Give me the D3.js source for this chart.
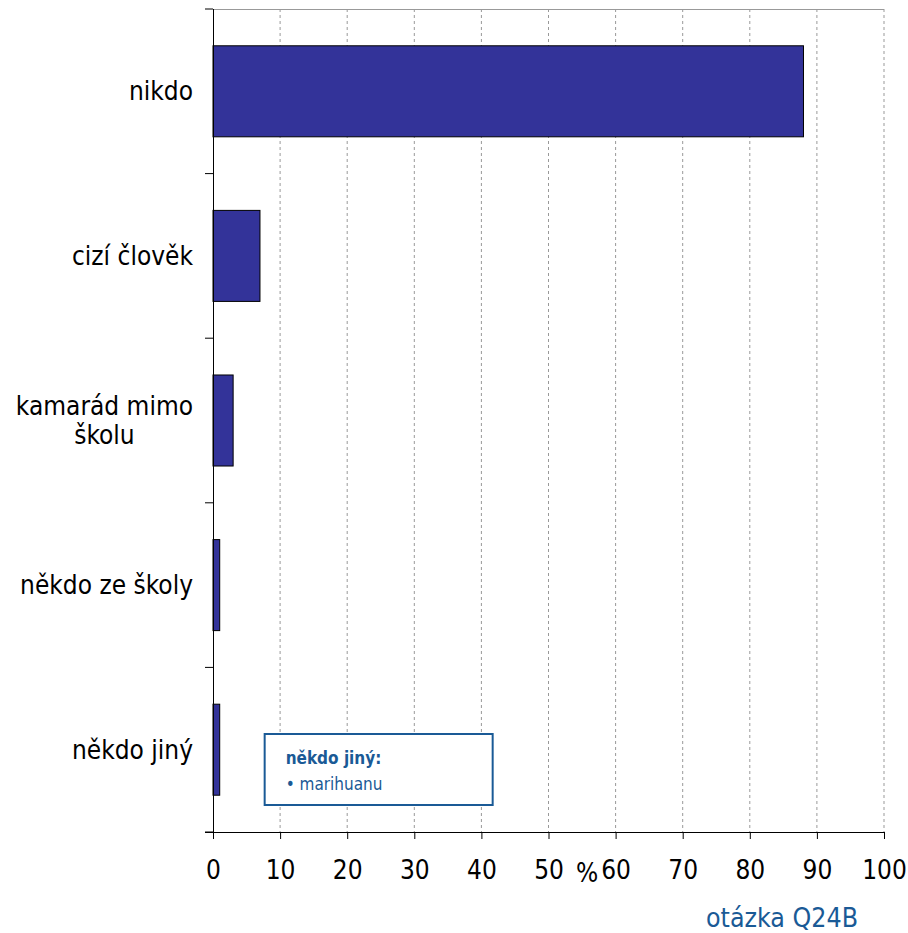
<!DOCTYPE html>
<html>
<head>
<meta charset="utf-8">
<script src="https://cdn.jsdelivr.net/npm/d3@7"></script>
<style>
  body { margin: 0; background: #fff; }
  svg text { font-family: "DejaVu Sans Condensed", "DejaVu Sans", sans-serif; }
</style>
</head>
<body>
<div id="chart"></div>
<script>
const categories = ["nikdo", "cizí člověk", "kamarád mimo školu", "někdo ze školy", "někdo jiný"];
const categoryLines = [["nikdo"], ["cizí člověk"], ["kamarád mimo", "školu"], ["někdo ze školy"], ["někdo jiný"]];
const values = [88, 7, 3, 1, 1];
const xTicks = [0, 10, 20, 30, 40, 50, 60, 70, 80, 90, 100];
const noteTitle = "někdo jiný:";
const noteItems = ["marihuanu"];

const width = 908, height = 933;
const margin = { top: 9, right: 24, bottom: 101, left: 213 };
const innerW = width - margin.left - margin.right;
const innerH = height - margin.top - margin.bottom;

const svg = d3.select("#chart").append("svg")
    .attr("width", width)
    .attr("height", height);

const g = svg.append("g")
    .attr("transform", "translate(" + margin.left + "," + margin.top + ")");

const x = d3.scaleLinear().domain([0, 100]).range([0, innerW]);
const y = d3.scaleBand().domain(categories).range([0, innerH]).paddingInner(0.447).paddingOuter(0.2235);

// grid
g.selectAll(".grid")
    .data(xTicks.slice(1))
    .enter().append("line")
    .attr("x1", d => x(d)).attr("x2", d => x(d))
    .attr("y1", 0).attr("y2", innerH)
    .attr("stroke", "#999")
    .attr("stroke-width", 1)
    .attr("stroke-dasharray", "3,3");

g.append("line")
    .attr("x1", 0).attr("x2", innerW)
    .attr("y1", 0.5).attr("y2", 0.5)
    .attr("stroke", "#999");

// bars
g.selectAll(".bar")
    .data(categories)
    .enter().append("rect")
    .attr("x", x(0))
    .attr("y", d => y(d))
    .attr("width", (d, i) => x(values[i]) - x(0))
    .attr("height", y.bandwidth())
    .attr("fill", "#333399")
    .attr("stroke", "#000")
    .attr("stroke-width", 1);

// x axis
const xAxis = g.append("g")
    .attr("transform", "translate(0," + innerH + ")")
    .call(d3.axisBottom(x).tickValues(xTicks).tickSize(7).tickPadding(22));
xAxis.select(".domain").attr("stroke", "#000").attr("d", "M-8,0.5H" + innerW);
xAxis.selectAll("text").attr("font-size", 26).attr("fill", "#000")
    .style("font-family", "'DejaVu Sans Condensed', 'DejaVu Sans', sans-serif");

g.append("text")
    .attr("x", x(55) + 5)
    .attr("y", innerH + 50)
    .attr("text-anchor", "middle")
    .attr("font-size", 26)
    .text("%");

// y axis
const yAxis = g.append("g");
yAxis.append("line")
    .attr("x1", 0.5).attr("x2", 0.5)
    .attr("y1", 0).attr("y2", innerH)
    .attr("stroke", "#000");
yAxis.selectAll(".ytick")
    .data(d3.range(categories.length + 1).map(i => i * innerH / categories.length))
    .enter().append("line")
    .attr("x1", -8).attr("x2", 0)
    .attr("y1", d => d).attr("y2", d => d)
    .attr("stroke", "#000");

// category labels: block right aligned, lines centered
categories.forEach((c, i) => {
    const lines = categoryLines[i];
    const lh = 29;
    const cy = y(c) + y.bandwidth() / 2;
    const t = g.append("text")
        .attr("font-size", 26)
        .attr("fill", "#000");
    lines.forEach((l, j) => {
        t.append("tspan").text(l)
            .attr("y", cy + (j - (lines.length - 1) / 2) * lh + 9);
    });
    const widths = t.selectAll("tspan").nodes().map(n => n.getComputedTextLength());
    const maxW = d3.max(widths);
    t.selectAll("tspan")
        .attr("text-anchor", "middle")
        .attr("x", -20 - maxW / 2);
});

// note box
const note = g.append("g").attr("transform", "translate(" + (x(7.7)) + "," + (725) + ")");
note.append("rect")
    .attr("width", 228).attr("height", 71)
    .attr("fill", "#fff")
    .attr("stroke", "#1a5a96")
    .attr("stroke-width", 2);
note.append("text")
    .attr("x", 21).attr("y", 30)
    .attr("font-size", 17)
    .attr("font-weight", "bold")
    .attr("fill", "#1a5a96")
    .text(noteTitle);
noteItems.forEach((t, i) => {
    note.append("text")
        .attr("x", 21).attr("y", 56 + i * 20)
        .attr("font-size", 17)
        .attr("fill", "#1a5a96")
        .text("• " + t);
});

svg.append("text")
    .attr("x", 858)
    .attr("y", 927)
    .attr("text-anchor", "end")
    .attr("font-size", 26.5)
    .attr("fill", "#1a5a96")
    .text("otázka Q24B");
</script>
</body>
</html>
